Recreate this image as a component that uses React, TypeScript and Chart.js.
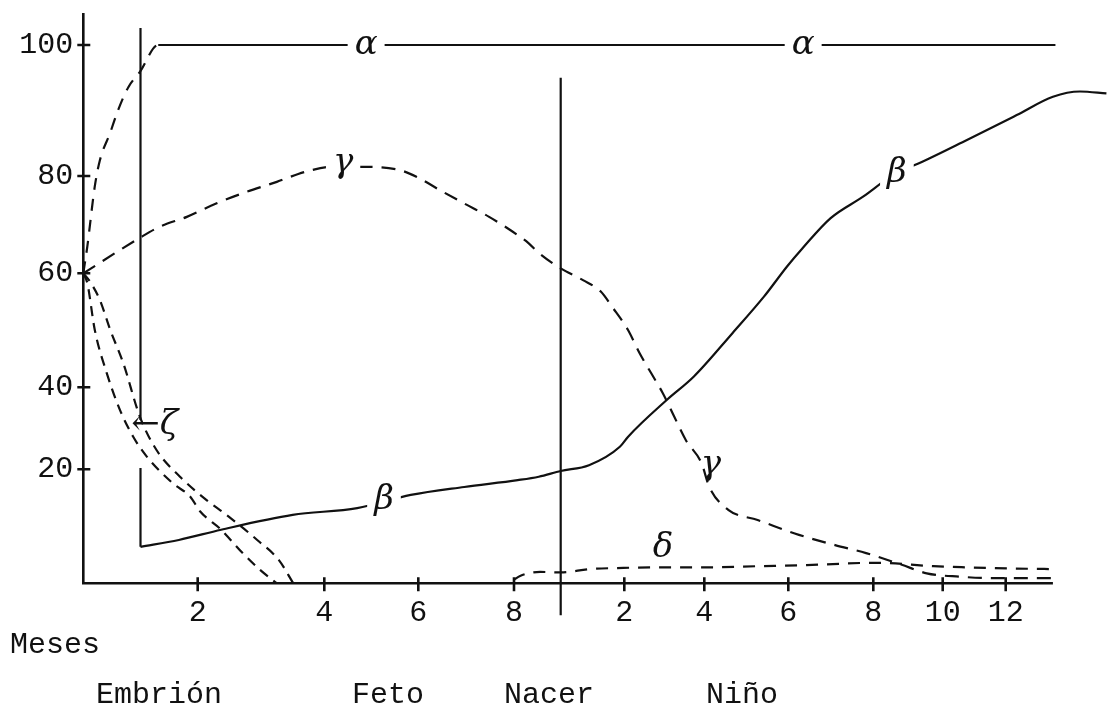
import React, { useEffect, useRef } from 'react';
import { Chart, LinearScale, registerables } from 'chart.js';

// The printed axes are hand drawn: tick marks are unevenly spaced.
// Each axis keeps its tick values and the relative gap between neighbouring ticks.
const X_SCALE_KNOTS = [0, 2, 4, 6, 8, 9, 11, 13, 15, 17, 19, 21, 24.25];
const X_SCALE_GAPS = [114.4, 126.6, 94, 95.7, 46.7, 63.6, 80, 84, 85, 69.4, 63, 102.3];
const Y_SCALE_KNOTS = [0, 20, 40, 60, 80, 100, 104.9];
const Y_SCALE_GAPS = [114, 82, 114, 97.3, 131, 32];

// x = months since conception (0..9 embryo/fetus, 9 = birth, then child months + 9)
const X_TICK_VALUES = [2, 4, 6, 8, 11, 13, 15, 17, 19, 21];
const X_TICK_LABELS = ['2', '4', '6', '8', '2', '4', '6', '8', '10', '12'];
const Y_TICK_VALUES = [20, 40, 60, 80, 100];
const X_AXIS_END = 22.5;

// α chain (dashed while rising, solid once at 100 %)
const ALPHA_X = [0, 0.07, 0.2, 0.29, 0.47, 0.61, 0.79, 0.99, 1.31, 22.58];
const ALPHA_Y = [60, 65.5, 77.8, 82.4, 86.6, 90.1, 93.6, 95.9, 100, 100];
const ALPHA_DASHED_UNTIL = 8;

// γ chain
const GAMMA_X = [0, 0.99, 1.34, 1.81, 2.3, 2.72, 3.25, 3.72, 4.19, 4.9, 5.61, 5.97, 6.45, 6.95, 7.48, 7.92, 8.31, 8.53, 9.0, 9.7, 10.26, 10.62, 11.09, 11.38, 11.67, 11.96, 12.25, 12.54, 12.93, 13.12, 13.57, 14.27, 15.25, 16.1, 16.83, 17.8, 18.54, 19.55, 20.61, 22.51];
const GAMMA_Y = [60, 67.3, 69.6, 71.6, 74.4, 76.5, 78.8, 80.7, 81.4, 81.4, 80.9, 79.8, 77.1, 74.4, 71.6, 68.9, 66.2, 64.2, 61, 58.8, 56.8, 54.1, 50.1, 46.0, 42.5, 38.6, 32.8, 27.1, 21.5, 16.9, 12.9, 11.1, 8.5, 6.7, 5.3, 3.3, 1.75, 1.16, 0.9, 0.9];

// β chain
const BETA_X = [1.0, 1.67, 2.37, 3.5, 4.7, 5.84, 6.96, 8.08, 8.53, 9.0, 9.89, 10.86, 11.09, 12.06, 12.74, 13.67, 14.42, 14.97, 15.33, 15.99, 16.75, 17.64, 18.3, 19.77, 21.35, 22.5, 23.36, 24.2];
const BETA_Y = [6.4, 7.6, 9.4, 12.0, 13.2, 15.5, 16.9, 18.1, 18.7, 19.7, 21.0, 25.5, 27.9, 36.9, 41.9, 49.5, 55.9, 61.4, 65.1, 71.3, 75.7, 80.4, 81.9, 85.5, 89.3, 92.1, 92.9, 92.6];

// ζ and ε chains (embryonic)
const ZETA_X = [0, 0.12, 0.29, 0.47, 0.7, 0.99, 1.28, 1.69, 2.14, 2.49, 2.94, 3.28, 3.51];
const ZETA_Y = [60, 58.5, 55.3, 50.1, 44.2, 32.8, 24.7, 18.7, 14.6, 11.7, 7.6, 4.1, 0];
const EPSILON_X = [0, 0.07, 0.2, 0.41, 0.64, 0.87, 1.11, 1.57, 1.87, 2.04, 2.37, 2.71, 2.99, 3.25];
const EPSILON_Y = [60, 58.3, 50.1, 42.5, 34.5, 28.0, 23.1, 17.5, 15.2, 12.6, 9.4, 5.3, 2.3, 0];

// δ chain
const DELTA_X = [8.0, 8.13, 8.56, 9.0, 9.92, 10.97, 11.81, 13.06, 14.26, 15.43, 17.1, 18.73, 19.76, 21.14, 22.41];
const DELTA_Y = [0.6, 1.3, 2.0, 1.9, 2.5, 2.7, 2.8, 2.8, 3.0, 3.2, 3.6, 3.0, 2.8, 2.6, 2.5];

// Vertical marker lines: end of embryo stage (month 1) and birth (month 9)
const EMBRYO_LINE_X = [1, 1, 1, 1, 1];
const EMBRYO_LINE_Y = [102.6, 32.0, null, 20.3, 6.4];
const BIRTH_LINE_X = [9, 9];
const BIRTH_LINE_Y = [95, -5.6];

// Hand-written chain labels (data coordinates)
const GREEK_LABELS = [
  { text: 'α', x: 4.89, y: 100, knockout: true },
  { text: 'α', x: 15.35, y: 100, knockout: true },
  { text: 'γ', x: 4.4, y: 82, knockout: true },
  { text: 'γ', x: 13.16, y: 21, knockout: false },
  { text: 'β', x: 5.27, y: 14.6, knockout: true },
  { text: 'β', x: 17.68, y: 80.5, knockout: true },
  { text: 'δ', x: 11.97, y: 6.2, knockout: false },
  { text: '←ζ', x: 1.25, y: 30.8, knockout: false },
];

function makeMap(knots: number[], gaps: number[]) {
  const total = gaps.reduce((a, b) => a + b, 0);
  const cum = [0];
  gaps.forEach((g) => cum.push(cum[cum.length - 1] + g));
  const n = knots.length;
  const toDecimal = (v: number) => {
    let i = 0;
    if (v <= knots[0]) i = 0;
    else if (v >= knots[n - 1]) i = n - 2;
    else while (i < n - 2 && v > knots[i + 1]) i++;
    const t = (v - knots[i]) / (knots[i + 1] - knots[i]);
    return (cum[i] + t * gaps[i]) / total;
  };
  const fromDecimal = (d: number) => {
    const p = d * total;
    let i = 0;
    if (p <= 0) i = 0;
    else if (p >= total) i = n - 2;
    else while (i < n - 2 && p > cum[i + 1]) i++;
    const t = (p - cum[i]) / gaps[i];
    return knots[i] + t * (knots[i + 1] - knots[i]);
  };
  return { toDecimal, fromDecimal };
}

const AXIS_MAPS: Record<string, ReturnType<typeof makeMap>> = {
  x: makeMap(X_SCALE_KNOTS, X_SCALE_GAPS),
  y: makeMap(Y_SCALE_KNOTS, Y_SCALE_GAPS),
};

class PiecewiseScale extends LinearScale {
  static id = 'piecewise';
  static defaults = {};
  getPixelForValue(value: any) {
    if (value === null || value === undefined || Number.isNaN(value)) return NaN;
    return this.getPixelForDecimal(AXIS_MAPS[(this as any).axis].toDecimal(value));
  }
  getValueForPixel(pixel: number) {
    return AXIS_MAPS[(this as any).axis].fromDecimal(this.getDecimalForPixel(pixel));
  }
}

Chart.register(...registerables, PiecewiseScale as any);

const pts = (xs: number[], ys: (number | null)[]) => xs.map((x, i) => ({ x, y: ys[i] }));

const INK = '#111';

const handAxesPlugin = {
  id: 'handAxes',
  afterDatasetsDraw(chart: any) {
    const { ctx } = chart;
    const xs = chart.scales.x;
    const ys = chart.scales.y;
    const x0 = xs.getPixelForValue(0);
    const x1 = xs.getPixelForValue(X_AXIS_END);
    const y0 = ys.getPixelForValue(0);
    const yTop = ys.getPixelForValue(Y_SCALE_KNOTS[Y_SCALE_KNOTS.length - 1]);
    ctx.save();
    ctx.strokeStyle = INK;
    ctx.lineWidth = 2.6;
    ctx.lineCap = 'butt';
    ctx.beginPath();
    ctx.moveTo(x0, yTop);
    ctx.lineTo(x0, y0);
    ctx.lineTo(x1, y0);
    X_TICK_VALUES.forEach((v) => {
      const p = xs.getPixelForValue(v);
      ctx.moveTo(p, y0 - 6);
      ctx.lineTo(p, y0 + 8);
    });
    Y_TICK_VALUES.forEach((v) => {
      const p = ys.getPixelForValue(v);
      ctx.moveTo(x0 - 6, p);
      ctx.lineTo(x0 + 7, p);
    });
    ctx.stroke();

    ctx.font = 'italic 34px "DejaVu Serif"';
    ctx.textAlign = 'center';
    ctx.textBaseline = 'middle';
    GREEK_LABELS.forEach((l) => {
      const px = xs.getPixelForValue(l.x);
      const py = ys.getPixelForValue(l.y);
      const w = ctx.measureText(l.text).width;
      if (l.knockout) {
        ctx.fillStyle = '#fff';
        ctx.fillRect(px - w / 2 - 7, py - 14, w + 14, 28);
      }
      ctx.fillStyle = INK;
      ctx.fillText(l.text, px, py);
    });
    ctx.restore();
  },
};

const monoFont = '"Liberation Mono", "Courier New", monospace';

export default function App() {
  const ref = useRef<HTMLCanvasElement | null>(null);

  useEffect(() => {
    if (!ref.current) return;
    const base = {
      borderColor: INK,
      pointRadius: 0,
      pointHoverRadius: 0,
      fill: false,
      borderWidth: 2.2,
    };
    const chart = new Chart(ref.current, {
      type: 'line',
      data: {
        datasets: [
          {
            ...base,
            label: 'α',
            data: pts(ALPHA_X, ALPHA_Y),
            cubicInterpolationMode: 'monotone',
            borderDash: [],
            segment: {
              borderDash: (c: any) => (c.p1DataIndex <= ALPHA_DASHED_UNTIL ? [12, 9] : []),
            },
          },
          {
            ...base,
            label: 'γ',
            data: pts(GAMMA_X, GAMMA_Y),
            cubicInterpolationMode: 'monotone',
            borderDash: [14, 9],
          },
          {
            ...base,
            label: 'β',
            data: pts(BETA_X, BETA_Y),
            cubicInterpolationMode: 'monotone',
          },
          {
            ...base,
            label: 'ζ',
            data: pts(ZETA_X, ZETA_Y),
            cubicInterpolationMode: 'monotone',
            borderDash: [10, 7],
          },
          {
            ...base,
            label: 'ε',
            data: pts(EPSILON_X, EPSILON_Y),
            cubicInterpolationMode: 'monotone',
            borderDash: [10, 7],
          },
          {
            ...base,
            label: 'δ',
            data: pts(DELTA_X, DELTA_Y),
            cubicInterpolationMode: 'monotone',
            borderDash: [12, 9],
          },
          {
            ...base,
            label: 'embrión',
            data: pts(EMBRYO_LINE_X, EMBRYO_LINE_Y),
            tension: 0,
            spanGaps: false,
          },
          {
            ...base,
            label: 'nacer',
            data: pts(BIRTH_LINE_X, BIRTH_LINE_Y),
            tension: 0,
            clip: false,
          },
        ] as any,
      },
      options: {
        animation: false,
        responsive: false,
        events: [],
        layout: { padding: { top: 13, left: 0, right: 0, bottom: 0 } },
        plugins: {
          legend: { display: false },
          tooltip: { enabled: false },
        },
        scales: {
          x: {
            type: 'piecewise' as any,
            min: X_SCALE_KNOTS[0],
            max: X_SCALE_KNOTS[X_SCALE_KNOTS.length - 1],
            grid: { display: false, drawTicks: false },
            border: { display: false },
            afterBuildTicks: (s: any) => {
              s.ticks = X_TICK_VALUES.map((v) => ({ value: v }));
            },
            afterFit: (s: any) => {
              s.height = 123.7;
              s.paddingLeft = 0;
              s.paddingRight = 0;
              s.paddingTop = 0;
              s.paddingBottom = 0;
            },
            ticks: {
              autoSkip: false,
              maxRotation: 0,
              padding: 12,
              color: INK,
              font: { family: monoFont, size: 30 },
              callback: (_v: any, i: number) => X_TICK_LABELS[i],
            },
          } as any,
          y: {
            type: 'piecewise' as any,
            min: Y_SCALE_KNOTS[0],
            max: Y_SCALE_KNOTS[Y_SCALE_KNOTS.length - 1],
            grid: { display: false, drawTicks: false },
            border: { display: false },
            afterBuildTicks: (s: any) => {
              s.ticks = Y_TICK_VALUES.map((v) => ({ value: v }));
            },
            afterFit: (s: any) => {
              s.width = 83.3;
              s.paddingLeft = 0;
              s.paddingRight = 0;
              s.paddingTop = 0;
              s.paddingBottom = 0;
            },
            ticks: {
              padding: 10,
              color: INK,
              font: { family: monoFont, size: 30 },
              callback: (v: any) => String(v),
            },
          } as any,
        },
      },
      plugins: [handAxesPlugin],
    } as any);
    return () => chart.destroy();
  }, []);

  const textStyle: React.CSSProperties = {
    position: 'absolute',
    fontFamily: monoFont,
    fontSize: 30,
    lineHeight: '30px',
    color: INK,
    whiteSpace: 'nowrap',
  };

  return (
    <div style={{ position: 'absolute', left: 0, top: 0, width: 1108, height: 707, background: '#fff', overflow: 'hidden' }}>
      <canvas ref={ref} width={1108} height={707} style={{ display: 'block', width: 1108, height: 707 }} />
      <div style={{ ...textStyle, left: 10, top: 630 }}>Meses</div>
      <div style={{ ...textStyle, left: 96, top: 680 }}>Embrión</div>
      <div style={{ ...textStyle, left: 352, top: 680 }}>Feto</div>
      <div style={{ ...textStyle, left: 504, top: 680 }}>Nacer</div>
      <div style={{ ...textStyle, left: 706, top: 680 }}>Niño</div>
    </div>
  );
}
